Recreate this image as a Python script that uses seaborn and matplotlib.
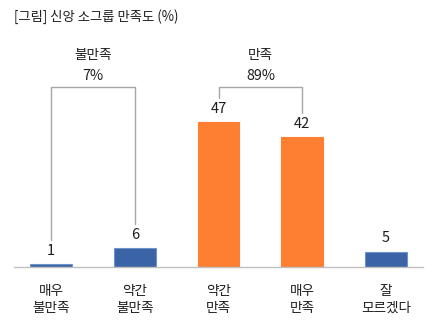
import matplotlib
matplotlib.use("Agg")
import matplotlib.pyplot as plt
import seaborn as sns
import pandas as pd

sns.set_theme(style="white")
plt.rcParams["font.family"] = ["Noto Sans CJK KR", "DejaVu Sans"]

# Survey categories and shares (%)
categories = ["매우\n불만족", "약간\n불만족", "약간\n만족", "매우\n만족", "잘\n모르겠다"]
values = [1, 6, 47, 42, 5]
groups = ["neg", "neg", "pos", "pos", "unk"]

# Grouped totals shown above brackets
group_names = ["불만족", "만족"]
group_totals = ["7%", "89%"]
group_members = [(0, 1), (2, 3)]

palette = {"neg": "#3A64A5", "pos": "#FF7F32", "unk": "#3A64A5"}
edge = {"neg": "#6F92C9", "pos": "#FF7F32", "unk": "#6F92C9"}

df = pd.DataFrame({"cat": categories, "val": values, "grp": groups})

W, H = 436, 325
fig = plt.figure(figsize=(W / 100, H / 100), dpi=100)
ax_left, ax_right, ax_base, ax_top = 14, 423, 267, 40
ax = fig.add_axes([ax_left / W, (H - ax_base) / H,
                   (ax_right - ax_left) / W, (ax_base - ax_top) / H])

sns.barplot(data=df, x="cat", y="val", hue="grp", palette=palette,
            dodge=False, width=0.5, legend=False, ax=ax, saturation=1)
for patch, g in zip(ax.patches, groups):
    patch.set_edgecolor(edge[g])
    patch.set_linewidth(0.8)

px_per_unit = 145 / 47
ax.set_ylim(0, (ax_base - ax_top) / px_per_unit)
ax.set_xlim(-0.44, 4.44)

for s in ["top", "right", "left"]:
    ax.spines[s].set_visible(False)
ax.spines["bottom"].set_color("#BFBFBF")
ax.spines["bottom"].set_linewidth(1)
ax.set_yticks([])
ax.set_xlabel("")
ax.set_ylabel("")
ax.tick_params(axis="x", length=0, pad=12, labelsize=9.8, labelcolor="#1E1E1E")
for lbl in ax.get_xticklabels():
    lbl.set_linespacing(1.3)

# value labels
for i, v in enumerate(values):
    ax.annotate(str(v), (i, v), xytext=(0, 4.5), textcoords="offset points",
                ha="center", va="bottom", fontsize=10.5, color="#1E1E1E")

# brackets for grouped totals
gap = 24 / px_per_unit
top_y = (ax_base - 86.7) / px_per_unit
for name, total, (a, b) in zip(group_names, group_totals, group_members):
    xs = [a, a, b, b]
    ys = [values[a] + gap, top_y, top_y, values[b] + gap]
    ax.plot(xs, ys, color="#A6A6A6", lw=1, clip_on=False)
    mid = (a + b) / 2
    ax.annotate(total, (mid, top_y), xytext=(0, 8), textcoords="offset points",
                ha="center", va="center", fontsize=10.3, color="#1E1E1E",
                annotation_clip=False)
    ax.annotate(name, (mid, top_y), xytext=(0, 22.5), textcoords="offset points",
                ha="center", va="center", fontsize=9.8, color="#1E1E1E",
                annotation_clip=False)

fig.text(14 / W, 1 - 17 / H, "[그림] 신앙 소그룹 만족도 (%)", ha="left", va="center",
         fontsize=9.6, color="#1E1E1E")

fig.savefig("out.png", dpi=100)
